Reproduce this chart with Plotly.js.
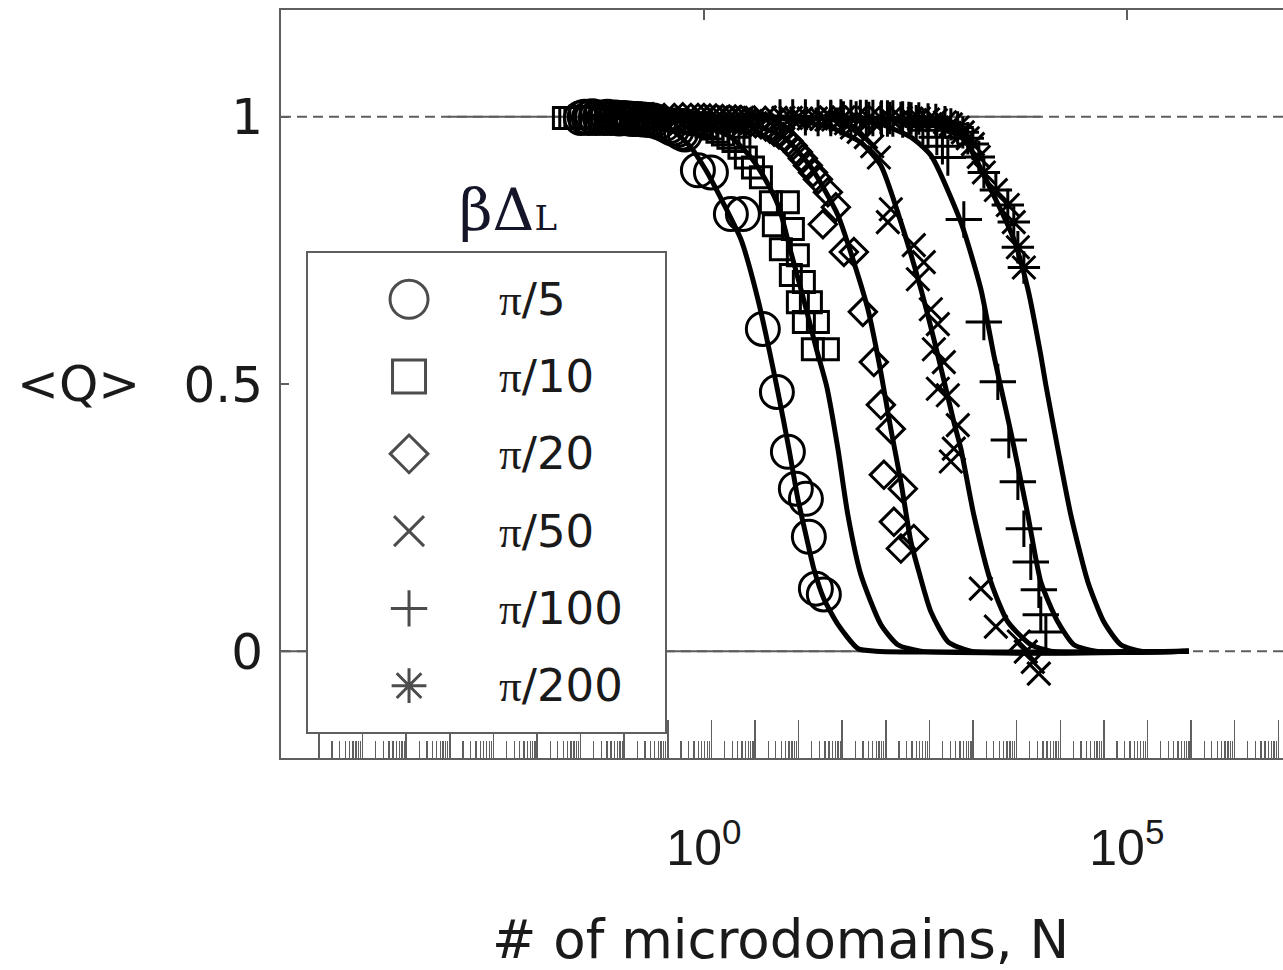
<!DOCTYPE html>
<html><head><meta charset="utf-8">
<script src="https://cdn.plot.ly/plotly-3.0.1.min.js"></script>
<style>html,body{margin:0;padding:0;overflow:hidden;background:#fff}#chart{width:1400px;height:970px}</style>
</head><body><div id="chart"></div><script>
// ---- data (log10 N, <Q>) ----
const seriesLabels = ['π/5','π/10','π/20','π/50','π/100','π/200'];
const seriesSymbols = ['circle-open','square-open','diamond-open','x-thin-open','cross-thin-open','asterisk-open'];
const markerSizes = [33, 21, 21, 23, 26, 27];
const legendSizes = [38, 33, 29, 30, 26, 29];

// fitted curves
const fit5_logN   = [-1.336,-0.745,-0.390,-0.154,0.024,0.225,0.437,0.638,0.875,1.005,1.111,1.217,1.300,1.418,1.584,1.820,2.033,5.733];
const fit5_Q      = [1.000,0.995,0.977,0.943,0.900,0.840,0.771,0.659,0.485,0.379,0.285,0.210,0.154,0.098,0.050,0.005,0.0,0.0];
const fit10_logN  = [-1.336,-0.508,-0.035,0.319,0.556,0.733,0.887,1.028,1.182,1.324,1.454,1.584,1.702,1.856,2.092,2.293,2.565,5.733];
const fit10_Q     = [1.0,0.995,0.986,0.962,0.924,0.881,0.831,0.747,0.657,0.569,0.494,0.379,0.255,0.143,0.050,0.012,0.0,0.0];
const fit20_logN  = [-1.336,-0.035,0.556,0.946,1.265,1.584,1.773,1.939,2.092,2.210,2.329,2.447,2.541,2.683,2.884,3.156,5.733];
const fit20_Q     = [1.0,0.997,0.986,0.962,0.906,0.816,0.728,0.640,0.522,0.416,0.317,0.205,0.149,0.074,0.018,0.0,0.0];
const fit50_logN  = [-1.336,0.910,1.501,1.856,2.092,2.329,2.565,2.766,2.955,3.038,3.191,3.392,3.593,3.865,4.102,5.733];
const fit50_Q     = [1.0,0.997,0.980,0.952,0.909,0.803,0.678,0.554,0.429,0.379,0.255,0.130,0.055,0.012,0.0,0.0];
const fit100_logN = [-1.336,1.501,2.092,2.447,2.683,3.038,3.274,3.428,3.511,3.629,3.830,3.983,4.184,4.374,4.634,5.733];
const fit100_Q    = [1.0,0.997,0.986,0.962,0.928,0.803,0.678,0.554,0.494,0.410,0.255,0.130,0.055,0.012,0.0,0.0];
const fit200_logN = [-1.336,2.092,2.683,3.073,3.392,3.664,3.830,3.983,4.043,4.184,4.338,4.539,4.728,4.929,5.165,5.733];
const fit200_Q    = [1.0,0.997,0.986,0.958,0.864,0.771,0.678,0.554,0.498,0.379,0.255,0.130,0.055,0.012,0.0,0.0];

// simulation points
const pts5_logN   = [-1.454,-1.41,-1.36,-1.32,-1.277,-1.23,-1.18,-1.14,-1.099,-1.05,-1.0,-0.95,-0.887,-0.84,-0.78,-0.72,-0.650,-0.60,-0.53,-0.47,-0.414,-0.37,-0.32,-0.27,-0.225,-0.071,0.083,0.319,0.461,0.697,0.863,0.993,1.087,1.206,1.241,1.324,1.418];
const pts5_Q      = [0.998,1.0,0.998,1.001,0.998,0.999,0.998,1.0,0.998,0.999,0.997,0.998,0.997,0.996,0.996,0.995,0.994,0.993,0.99,0.986,0.982,0.978,0.975,0.97,0.967,0.900,0.896,0.818,0.818,0.603,0.485,0.373,0.304,0.285,0.214,0.117,0.106];
const pts10_logN  = [-1.655,-1.58,-1.52,-1.46,-1.395,-1.34,-1.28,-1.22,-1.158,-1.10,-1.05,-0.99,-0.922,-0.86,-0.80,-0.72,-0.650,-0.58,-0.52,-0.44,-0.366,-0.28,-0.2,-0.12,-0.035,0.03,0.1,0.16,0.225,0.29,0.35,0.42,0.496,0.58,0.674,0.792,0.993,0.827,1.052,0.910,1.111,1.028,1.182,1.111,1.265,1.182,1.348,1.288,1.466];
const pts10_Q     = [0.998,0.998,0.998,1.0,0.998,0.999,0.998,0.998,0.998,1.0,0.998,0.998,0.998,0.997,0.997,0.997,0.997,0.996,0.995,0.995,0.994,0.992,0.99,0.988,0.986,0.982,0.978,0.972,0.967,0.961,0.955,0.942,0.924,0.905,0.887,0.840,0.840,0.797,0.790,0.752,0.741,0.704,0.691,0.653,0.653,0.616,0.616,0.565,0.565];
const pts20_logN  = [-1.0,-0.8,-0.6,-0.47,-0.35,-0.25,-0.154,-0.07,0.0,0.07,0.142,0.22,0.3,0.37,0.437,0.50,0.55,0.61,0.674,0.73,0.78,0.83,0.887,0.94,1.0,1.05,1.111,1.17,1.229,1.29,1.348,1.466,1.560,1.407,1.655,1.773,1.879,2.009,2.092,2.210,2.128,2.352,2.246,2.482,2.329];
const pts20_Q     = [0.999,0.999,0.999,0.998,0.998,0.999,0.998,0.998,0.998,0.997,0.997,0.996,0.995,0.995,0.994,0.992,0.99,0.988,0.986,0.982,0.978,0.972,0.967,0.962,0.955,0.946,0.934,0.922,0.909,0.896,0.883,0.859,0.831,0.799,0.747,0.747,0.635,0.541,0.461,0.416,0.330,0.304,0.242,0.210,0.192];
const pts50_logN  = [0.0,0.15,0.3,0.45,0.6,0.72,0.85,0.94,1.028,1.09,1.15,1.24,1.324,1.39,1.45,1.53,1.619,1.68,1.75,1.83,1.915,1.99,2.069,2.210,2.175,2.482,2.600,2.530,2.683,2.766,2.719,2.837,2.766,2.884,3.002,2.955,2.920,3.274,3.452,3.723,3.806,3.889,3.960];
const pts50_Q     = [0.999,0.999,0.999,0.998,0.998,0.999,0.998,0.998,0.998,0.997,0.997,0.997,0.997,0.996,0.995,0.995,0.994,0.988,0.98,0.972,0.962,0.945,0.924,0.827,0.803,0.760,0.728,0.696,0.640,0.612,0.565,0.541,0.491,0.479,0.423,0.379,0.355,0.117,0.046,0.018,-0.001,-0.020,-0.042];
const pts100_logN = [0.9,1.05,1.2,1.35,1.5,1.62,1.738,1.85,1.92,1.998,2.1,2.17,2.234,2.35,2.423,2.51,2.589,2.65,2.754,2.82,2.884,3.073,3.310,3.475,3.605,3.712,3.783,3.865,3.960,3.983,4.043];
const pts100_Q    = [0.999,0.999,0.999,0.998,0.998,0.999,0.998,0.998,0.998,0.998,0.997,0.997,0.997,0.995,0.994,0.988,0.982,0.975,0.962,0.945,0.924,0.808,0.616,0.504,0.395,0.317,0.229,0.167,0.115,0.068,0.036];
const pts200_logN = [1.5,1.65,1.8,1.95,2.092,2.2,2.329,2.45,2.541,2.65,2.742,2.85,2.920,3.0,3.061,3.12,3.180,3.25,3.310,3.452,3.593,3.664,3.712,3.783];
const pts200_Q    = [0.999,0.999,0.999,0.998,0.998,0.998,0.998,0.997,0.997,0.995,0.994,0.99,0.986,0.98,0.971,0.96,0.949,0.925,0.896,0.863,0.835,0.803,0.756,0.718];

// reference lines (log10 N extents)
const dashedRefLogN = [-5, 9];
const solidRef1LogN = [-3.03, 3.98];
const solidRef0LogN = [-5, 5.733];

const xTickLogN = [0, 5];
const yTicks = [0, 0.5, 1];

// ---- build ----
const toN = a => a.map(v => v === null ? null : Math.pow(10, v));
const fitsLogN = [fit5_logN, fit10_logN, fit20_logN, fit50_logN, fit100_logN, fit200_logN];
const fitsQ = [fit5_Q, fit10_Q, fit20_Q, fit50_Q, fit100_Q, fit200_Q];
const ptsLogN = [pts5_logN, pts10_logN, pts20_logN, pts50_logN, pts100_logN, pts200_logN];
const ptsQ = [pts5_Q, pts10_Q, pts20_Q, pts50_Q, pts100_Q, pts200_Q];

const GREY = '#5f5f5f';
const TXT = '#1a1a1a';
const SANS = 'DejaVu Sans, Verdana, sans-serif';
const ARIAL = 'Liberation Sans, Arial, sans-serif';
const traces = [];
traces.push({type:'scatter', mode:'lines', hoverinfo:'skip', showlegend:false,
  x: toN([dashedRefLogN[0], dashedRefLogN[1], null, dashedRefLogN[0], dashedRefLogN[1]]),
  y: [1, 1, null, 0, 0], line:{color:GREY, width:2, dash:'10px,6px'}});
traces.push({type:'scatter', mode:'lines', hoverinfo:'skip', showlegend:false,
  x: toN([solidRef1LogN[0], solidRef1LogN[1], null, solidRef0LogN[0], solidRef0LogN[1]]),
  y: [1, 1, null, 0, 0], line:{color:GREY, width:2}});
for (let i = 0; i < 6; i++) {
  traces.push({type:'scatter', mode:'lines', showlegend:false, name:seriesLabels[i]+' fit',
    x: toN(fitsLogN[i]), y: fitsQ[i], line:{color:'#000', width:5, shape:'spline', smoothing:0.6}});
}
for (let i = 0; i < 6; i++) {
  traces.push({type:'scatter', mode:'markers', showlegend:false, name:seriesLabels[i],
    x: toN(ptsLogN[i]), y: ptsQ[i],
    marker:{symbol:seriesSymbols[i], size:markerSizes[i], color:'#000', line:{color:'#000', width:3}}});
}
// custom legend (inset axes)
const LEG_MX = 0.283;
traces.push({type:'scatter', mode:'markers', xaxis:'x3', yaxis:'y3', showlegend:false, hoverinfo:'skip',
  x: seriesLabels.map(() => LEG_MX), y: seriesLabels.map((_, i) => i),
  marker:{symbol:seriesSymbols, size:legendSizes, color:'#000', line:{color:'#000', width:3}}});

// bottom minor-tick ruler and top ticks (carrier traces so the overlay axes are drawn)
const rulerMajor = [], rulerMinor = [];
for (let n = 0; n <= 25; n++) { rulerMajor.push(n); for (let m = 2; m <= 9; m++) rulerMinor.push(n + Math.log10(m)); }
traces.push({type:'scatter', mode:'markers', xaxis:'x2', yaxis:'y', x:[0], y:[null], hoverinfo:'skip', showlegend:false});
traces.push({type:'scatter', mode:'markers', xaxis:'x4', yaxis:'y', x:[1], y:[null], hoverinfo:'skip', showlegend:false});

const annotations = [];
seriesLabels.forEach((lab, i) => {
  annotations.push({xref:'x3', yref:'y3', x:0.53, y:i, xanchor:'left', yanchor:'middle', showarrow:false,
    text: lab.replace('π', '<span style="font-family:Liberation Serif">π</span>'),
    font:{family:SANS, size:45, color:TXT}});
});
annotations.push({xref:'paper', yref:'paper', x:0.2048, y:0.733, xanchor:'center', yanchor:'middle', showarrow:false,
  text:'βΔ<span style="font-size:34px">L</span>', font:{family:'DejaVu Serif, Liberation Serif', size:58, color:'#15152a'}});
annotations.push({xref:'paper', yref:'y', x:-0.1832, y:0.5, xanchor:'center', yanchor:'middle', showarrow:false,
  text:'&lt;Q&gt;', font:{family:SANS, size:50, color:TXT}});
annotations.push({xref:'paper', yref:'paper', x:0.4504, y:-0.2433, xanchor:'center', yanchor:'middle', showarrow:false,
  text:'# of microdomains, N', font:{family:SANS, size:53, color:TXT}});

const layout = {
  width:1400, height:970,
  margin:{l:281, r:11, t:10, b:212},
  paper_bgcolor:'#fff', plot_bgcolor:'#fff',
  showlegend:false,
  font:{family:SANS, color:TXT},
  xaxis:{type:'log', range:[-5, 8.1], showgrid:false, zeroline:false,
    showline:true, linecolor:GREY, linewidth:2, mirror:true, ticks:'',
    tickvals: xTickLogN.map(v => Math.pow(10, v)),
    ticktext: xTickLogN.map(v => '10<sup>' + v + '</sup>'),
    tickfont:{family:ARIAL, size:50, color:TXT}, ticklabelstandoff:45},
  xaxis2:{type:'linear', overlaying:'x', anchor:'y', side:'bottom', range:[-0.872, 24.54], showgrid:false, zeroline:false,
    showline:false, showticklabels:false, tickmode:'array', tickvals:rulerMajor,
    ticks:'inside', ticklen:38, tickwidth:1.5, tickcolor:GREY,
    minor:{tickmode:'array', tickvals:rulerMinor, ticks:'inside', ticklen:17, tickwidth:1.3, tickcolor:GREY}},
  xaxis4:{overlaying:'x', anchor:'y', side:'top', type:'log', range:[-5, 8.1], showgrid:false, zeroline:false,
    showline:false, showticklabels:false, tickmode:'array', tickvals: xTickLogN.map(v => Math.pow(10, v)),
    ticks:'inside', ticklen:10, tickwidth:2, tickcolor:GREY},
  yaxis:{range:[-0.2, 1.2], showgrid:false, zeroline:false, showline:true, linecolor:GREY, linewidth:2,
    tickvals:yTicks, ticktext:yTicks.map(String), ticks:'inside', ticklen:8, tickwidth:2, tickcolor:GREY,
    tickfont:{family:SANS, size:50, color:TXT}, ticklabelstandoff:6},
  xaxis3:{domain:[0.02437, 0.34657], anchor:'y3', range:[0, 1], showgrid:false, zeroline:false,
    showticklabels:false, ticks:'', showline:true, mirror:true, linecolor:GREY, linewidth:2, fixedrange:true},
  yaxis3:{domain:[0.03476, 0.67513], anchor:'x3', range:[5.6, -0.6], autorange:false, showgrid:false, zeroline:false,
    showticklabels:false, ticks:'', showline:true, mirror:true, linecolor:GREY, linewidth:2, fixedrange:true},
  annotations: annotations
};

Plotly.newPlot('chart', traces, layout, {staticPlot:true});
</script></body></html>
